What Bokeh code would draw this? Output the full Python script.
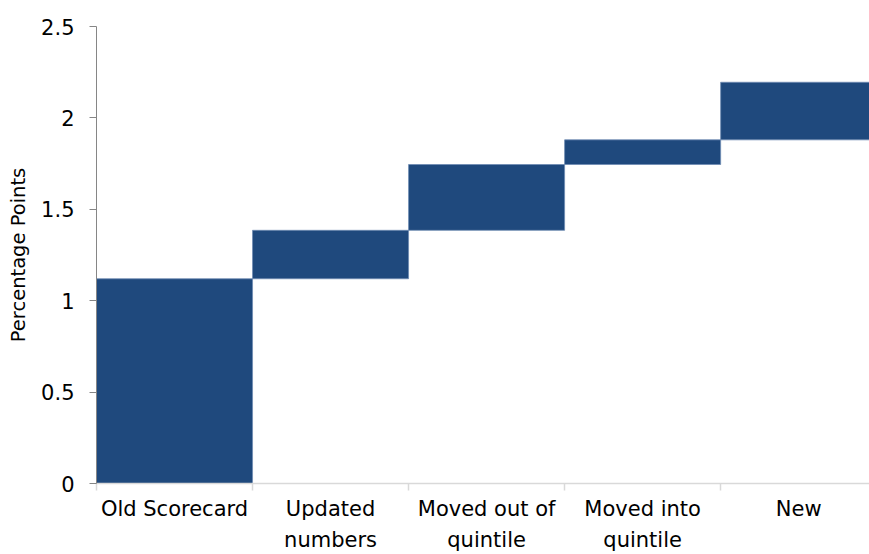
from bokeh.plotting import figure
from bokeh.models import FixedTicker, CustomJSTickFormatter, NumeralTickFormatter, Range1d, ColumnDataSource
from bokeh.embed import file_html
from bokeh.resources import INLINE

# ---- data ----
categories = ["Old Scorecard", "Updated\nnumbers", "Moved out of\nquintile", "Moved into\nquintile", "New"]
base_value = 1.12
changes = [0.265, 0.36, 0.135, 0.315]
y_ticks = [0, 0.5, 1, 1.5, 2, 2.5]

# waterfall geometry derived from data
bottoms = [0.0]
tops = [base_value]
for c in changes:
    bottoms.append(tops[-1])
    tops.append(tops[-1] + c)
lefts = list(range(len(categories)))
rights = [i + 1 for i in lefts]

src = ColumnDataSource(dict(left=lefts, right=rights, bottom=bottoms, top=tops))

FONT = "DejaVu Sans"

p = figure(width=869, height=554, output_backend="svg", toolbar_location=None,
           x_range=Range1d(0, 4.954), y_range=Range1d(0, 2.5),
           min_border_left=96, min_border_right=0, min_border_top=26, min_border_bottom=64)
p.outline_line_color = None
p.xgrid.visible = False
p.ygrid.visible = False
p.background_fill_color = "white"
p.border_fill_color = "white"

p.quad(left="left", right="right", bottom="bottom", top="top", source=src,
       fill_color="#1F497D", line_color="#6f8bb3", line_width=0.8)

# x axis: ticks at category boundaries (minor), labels at centers (major)
xa = p.xaxis[0]
xa.ticker = FixedTicker(ticks=[i + 0.5 for i in lefts], minor_ticks=lefts + [len(categories)])
xa.formatter = CustomJSTickFormatter(args=dict(labels=categories),
                                     code="return labels[Math.floor(tick)];")
xa.major_tick_line_color = None
xa.major_tick_out = 7
xa.major_tick_in = 0
xa.minor_tick_out = 7
xa.minor_tick_in = 0
xa.minor_tick_line_color = "#d9d9d9"
xa.minor_tick_line_width = 1.5
xa.axis_line_color = "#d9d9d9"
xa.axis_line_width = 1.5
xa.major_label_standoff = 6
xa.major_label_text_font = FONT
xa.major_label_text_font_size = "21px"
xa.major_label_text_line_height = 1.3
xa.major_label_text_color = "#000000"

# y axis
ya = p.yaxis[0]
ya.ticker = FixedTicker(ticks=y_ticks)
ya.formatter = NumeralTickFormatter(format="0.[0]")
ya.minor_tick_line_color = None
ya.major_tick_out = 7
ya.major_tick_in = 0
ya.major_tick_line_color = "#868686"
ya.axis_line_color = "#868686"
ya.major_label_standoff = 15
ya.major_label_text_font = FONT
ya.major_label_text_font_size = "21px"
ya.major_label_text_color = "#000000"
ya.axis_label = "Percentage Points"
ya.axis_label_text_font = FONT
ya.axis_label_text_font_size = "19.5px"
ya.axis_label_text_font_style = "normal"
ya.axis_label_text_color = "#000000"
ya.axis_label_standoff = 8

open("out.html", "w").write(file_html(p, INLINE))
